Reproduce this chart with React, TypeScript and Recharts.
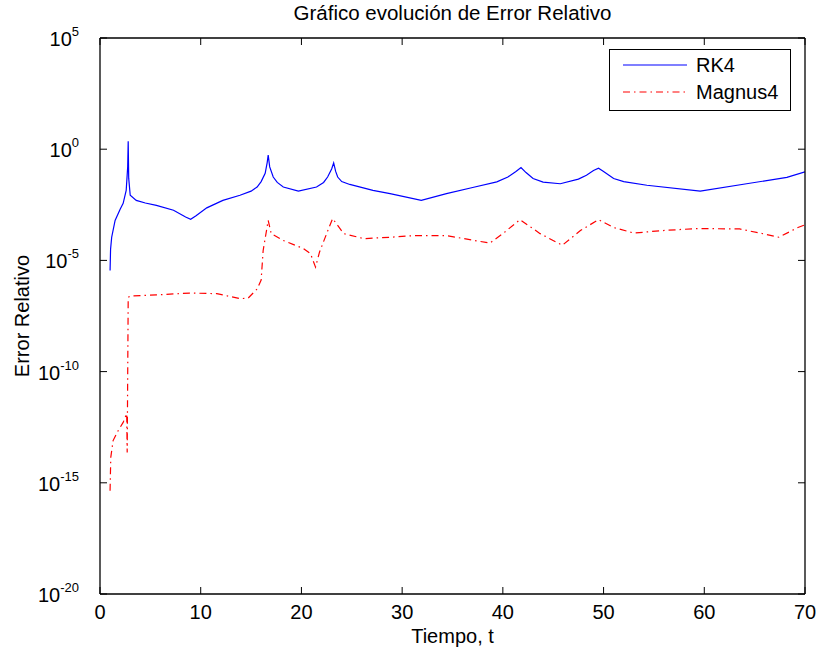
import React from "react";
import { LineChart, Line, XAxis, YAxis, Legend } from "recharts";

// RK4 relative error (time, value)
const rkT = [1.0, 1.05, 1.16, 1.5, 2.0, 2.3, 2.6, 2.75, 2.8, 2.85, 3.0, 3.6, 4.5, 5.6, 7.3, 8.5, 9.0, 9.5, 10.6, 12.2, 13.9, 15.0, 15.6, 16.0, 16.4, 16.6, 16.7, 16.85, 17.2, 17.6, 18.2, 19.7, 21.5, 22.2, 22.6, 23.0, 23.2, 23.4, 23.6, 24.0, 24.8, 27.1, 28.8, 31.9, 34.4, 37.0, 39.4, 40.5, 41.3, 41.8, 42.3, 43.0, 44.0, 45.7, 47.5, 48.3, 49.0, 49.5, 50.0, 51.0, 52.0, 54.3, 59.6, 64.2, 68.2, 70.0];
const rkErr = [3.5e-6, 3.2e-5, 1.1e-4, 6.3e-4, 2.0e-3, 3.7e-3, 1.4e-2, 0.16, 2.3, 0.05, 8.5e-3, 5.0e-3, 3.8e-3, 3.0e-3, 1.8e-3, 8.9e-4, 7.1e-4, 1.0e-3, 2.3e-3, 5.0e-3, 8.5e-3, 1.3e-2, 2.0e-2, 3.5e-2, 8.3e-2, 0.25, 0.54, 0.16, 5.6e-2, 3.2e-2, 2.0e-2, 1.3e-2, 2.0e-2, 3.2e-2, 5.6e-2, 0.13, 0.24, 0.1, 5.6e-2, 3.5e-2, 2.6e-2, 1.4e-2, 1.0e-2, 5.0e-3, 1.0e-2, 1.9e-2, 3.4e-2, 5.6e-2, 0.1, 0.15, 8.9e-2, 4.8e-2, 3.3e-2, 2.8e-2, 4.5e-2, 6.8e-2, 0.11, 0.14, 0.1, 4.8e-2, 3.5e-2, 2.4e-2, 1.3e-2, 2.8e-2, 5.4e-2, 9.5e-2];

// Magnus4 relative error (time, value)
const mgT = [1.0, 1.07, 1.3, 1.8, 2.3, 2.65, 2.7, 2.8, 3.0, 5.6, 8.9, 11.6, 13.9, 14.7, 15.6, 16.0, 16.2, 16.7, 17.0, 18.2, 20.2, 20.9, 21.4, 21.8, 22.7, 23.1, 24.2, 26.2, 28.8, 31.1, 34.4, 38.7, 40.0, 41.7, 43.7, 45.9, 47.7, 49.5, 51.0, 53.0, 55.9, 59.2, 63.5, 65.5, 67.4, 69.3, 70.0];
const mgErr = [4.4e-16, 1.4e-14, 7.9e-14, 2.2e-13, 5.2e-13, 1.3e-12, 2.3e-14, 2.2e-7, 2.5e-7, 2.8e-7, 3.4e-7, 3.2e-7, 1.9e-7, 2.0e-7, 5.2e-7, 1.3e-6, 2.8e-5, 6.3e-4, 1.6e-4, 7.9e-5, 3.4e-5, 2.0e-5, 5.0e-6, 2.4e-5, 2.7e-4, 7.6e-4, 1.6e-4, 9.5e-5, 1.1e-4, 1.3e-4, 1.3e-4, 6.0e-5, 1.6e-4, 6.8e-4, 1.6e-4, 4.8e-5, 2.2e-4, 6.8e-4, 3.0e-4, 1.7e-4, 2.2e-4, 2.7e-4, 2.6e-4, 1.7e-4, 1.1e-4, 3.0e-4, 4.0e-4];

const xTicks = [0, 10, 20, 30, 40, 50, 60, 70];
const yTicks = [1e-20, 1e-15, 1e-10, 1e-5, 1, 1e5];
const seriesNames = ["RK4", "Magnus4"];
const titleText = "Gráfico evolución de Error Relativo";
const xLabel = "Tiempo, t";
const yLabel = "Error Relativo";

const rkData = rkT.map((t, i) => ({ t, v: rkErr[i] }));
const mgData = mgT.map((t, i) => ({ t, v: mgErr[i] }));

const FONT = '"Liberation Sans", Arial, Helvetica, sans-serif';
const TICK = 7;

const BottomTick = (p: any) => (
  <g>
    <line x1={p.x} x2={p.x} y1={p.y} y2={p.y - TICK} stroke="#000" />
    <text x={p.x} y={p.y + 25} textAnchor="middle" fontSize={20} fontFamily={FONT} fill="#000">
      {p.payload.value}
    </text>
  </g>
);

const TopTick = (p: any) => (
  <line x1={p.x} x2={p.x} y1={p.y} y2={p.y + TICK} stroke="#000" />
);

const LeftTick = (p: any) => {
  const e = Math.round(Math.log10(p.payload.value));
  return (
    <g>
      <line x1={p.x} x2={p.x + TICK} y1={p.y} y2={p.y} stroke="#000" />
      <text x={p.x - 21} y={p.y + 8} textAnchor="end" fontSize={20} fontFamily={FONT} fill="#000">
        10
        <tspan dy={-10} fontSize={13}>{e}</tspan>
      </text>
    </g>
  );
};

const RightTick = (p: any) => (
  <line x1={p.x} x2={p.x - TICK} y1={p.y} y2={p.y} stroke="#000" />
);

const LegendBox = () => (
  <svg width={182} height={62} style={{ display: "block" }}>
    <rect x={0.5} y={0.5} width={181} height={61} fill="#fff" stroke="#000" />
    <line x1={14} x2={78} y1={16} y2={16} stroke="#0000ff" strokeWidth={1.2} />
    <text x={87} y={23} fontSize={20} fontFamily={FONT} fill="#000">{seriesNames[0]}</text>
    <line x1={14} x2={78} y1={43} y2={43} stroke="#ff0000" strokeWidth={1.2} strokeDasharray="7 4 1.5 4" />
    <text x={87} y={50} fontSize={20} fontFamily={FONT} fill="#000">{seriesNames[1]}</text>
  </svg>
);

const axisStroke = { stroke: "#000", strokeWidth: 1.3 };

export default function App() {
  return (
    <div style={{ position: "absolute", left: 0, top: 0, width: 821, height: 655, background: "#fff", fontFamily: FONT }}>
      <div style={{ position: "absolute", left: 100, width: 705, top: 0, textAlign: "center", fontSize: 20.5, lineHeight: "26px", color: "#000" }}>
        {titleText}
      </div>
      <div style={{ position: "absolute", left: 100, width: 705, top: 623, textAlign: "center", fontSize: 20, lineHeight: "26px", color: "#000" }}>
        {xLabel}
      </div>
      <div style={{ position: "absolute", left: 22, top: 316, width: 0, height: 0 }}>
        <div style={{ position: "absolute", left: -100, top: -13, width: 200, textAlign: "center", fontSize: 20, lineHeight: "26px", color: "#000", transform: "rotate(-90deg)", transformOrigin: "100px 13px", whiteSpace: "nowrap" }}>
          {yLabel}
        </div>
      </div>
      <LineChart width={821} height={655} margin={{ top: 37, right: 15, left: 0, bottom: 0 }} style={{ position: "absolute", left: 0, top: 0 }}>
        <XAxis xAxisId="b" dataKey="t" type="number" domain={[0, 70]} ticks={xTicks} allowDataOverflow
          height={61} tickSize={0} tickMargin={0} tickLine={false} axisLine={axisStroke} tick={<BottomTick />} interval={0} />
        <XAxis xAxisId="t" orientation="top" dataKey="t" type="number" domain={[0, 70]} ticks={xTicks} allowDataOverflow
          height={1} tickSize={0} tickMargin={0} tickLine={false} axisLine={axisStroke} tick={<TopTick />} interval={0} />
        <YAxis yAxisId="l" scale="log" type="number" domain={[1e-20, 1e5]} ticks={yTicks} allowDataOverflow
          width={100} tickSize={0} tickMargin={0} tickLine={false} axisLine={axisStroke} tick={<LeftTick />} interval={0} />
        <YAxis yAxisId="r" orientation="right" scale="log" type="number" domain={[1e-20, 1e5]} ticks={yTicks} allowDataOverflow
          width={1} tickSize={0} tickMargin={0} tickLine={false} axisLine={axisStroke} tick={<RightTick />} interval={0} />
        <Line xAxisId="b" yAxisId="l" data={rkData} dataKey="v" name={seriesNames[0]} type="linear" stroke="#0000ff" strokeWidth={1.2} dot={false} isAnimationActive={false} />
        <Line xAxisId="b" yAxisId="l" data={mgData} dataKey="v" name={seriesNames[1]} type="linear" stroke="#ff0000" strokeWidth={1.2} strokeDasharray="7 4 1.5 4" dot={false} isAnimationActive={false} />
        <Line xAxisId="t" yAxisId="r" data={rkData} dataKey="v" legendType="none" stroke="none" strokeWidth={0} dot={false} activeDot={false} isAnimationActive={false} />
        <Legend layout="vertical" align="center" verticalAlign="middle" content={<LegendBox />}
          wrapperStyle={{ position: "absolute", left: 609, top: 49, width: 182, height: 62 }} />
      </LineChart>
    </div>
  );
}
